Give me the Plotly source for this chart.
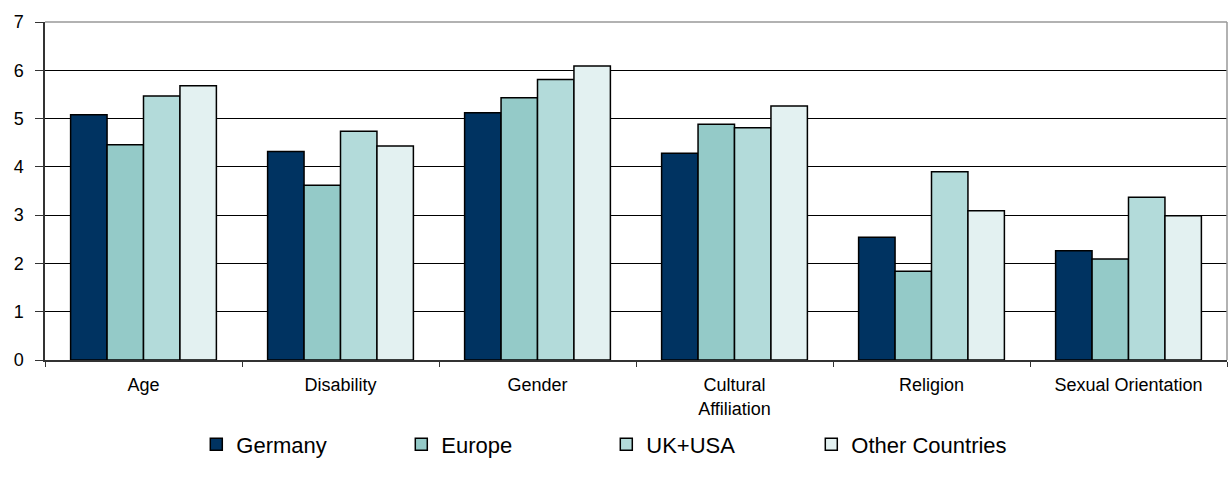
import plotly.graph_objects as go

categories = ["Age", "Disability", "Gender", "Cultural<br>Affiliation", "Religion", "Sexual Orientation"]
germany = [5.08, 4.32, 5.12, 4.28, 2.54, 2.26]
europe = [4.46, 3.62, 5.43, 4.88, 1.84, 2.09]
uk_usa = [5.47, 4.74, 5.81, 4.81, 3.90, 3.37]
other = [5.68, 4.43, 6.09, 5.26, 3.09, 2.99]

series = [
    ("Germany", germany, "#003361"),
    ("Europe", europe, "#94CAC8"),
    ("UK+USA", uk_usa, "#B3DBDA"),
    ("Other Countries", other, "#E3F1F1"),
]

fig = go.Figure()
for name, vals, col in series:
    fig.add_trace(go.Bar(
        name=name, x=categories, y=vals,
        marker=dict(color=col, line=dict(color="#000000", width=1.5)),
    ))

fig.update_layout(
    width=1228, height=481,
    margin=dict(l=45, r=1, t=22, b=121, autoexpand=False),
    paper_bgcolor="white", plot_bgcolor="white",
    barmode="group", bargap=0.26, bargroupgap=0,
    font=dict(family="Liberation Sans, Arial, sans-serif", color="#000000"),
    showlegend=True,
    legend=dict(
        orientation="h", x=0.128, xanchor="left", y=-0.25, yanchor="middle",
        font=dict(size=22), entrywidth=160, entrywidthmode="pixels",
    ),
    shapes=[
        dict(type="line", xref="paper", yref="paper", x0=0, x1=1, y0=1, y1=1,
             line=dict(color="#999999", width=1.5), layer="above"),
        dict(type="line", xref="paper", yref="paper", x0=1, x1=1, y0=0, y1=1,
             line=dict(color="#999999", width=1.5), layer="above"),
    ],
)
fig.update_xaxes(
    showline=True, linecolor="#333333", linewidth=1.5,
    ticks="outside", tickson="boundaries", ticklen=5, tickcolor="#333333",
    tickfont=dict(size=18), ticklabelstandoff=8, showgrid=False,
)
fig.update_yaxes(
    range=[0, 7], dtick=1, showline=True, linecolor="#333333", linewidth=1.5,
    ticks="outside", ticklen=8, tickcolor="#333333", ticklabelstandoff=8,
    showgrid=True, gridcolor="#000000", gridwidth=1,
    tickfont=dict(size=18), zeroline=False,
)

fig.write_html("out.html")
